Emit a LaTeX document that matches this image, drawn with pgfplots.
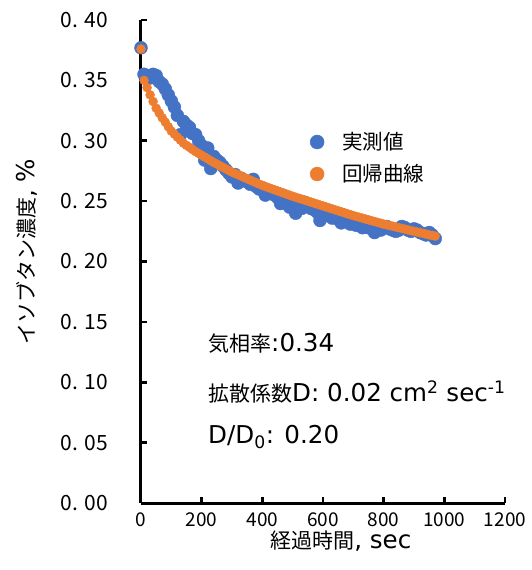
\documentclass[border=0pt]{standalone}
\usepackage{fontspec}
\setmainfont{DejaVu Sans}[Scale=1.17]
\newfontfamily\cjk{Noto Sans CJK JP}
\usepackage{pgfplots}
\pgfplotsset{compat=1.18}
\definecolor{xblue}{HTML}{4472C4}
\definecolor{xorange}{HTML}{ED7D31}
\begin{document}
\begin{tikzpicture}
\useasboundingbox (-141pt,-67pt) rectangle (391pt,503pt);
\begin{axis}[
  scale only axis, width=364pt, height=483pt,
  at={(0pt,0pt)}, anchor=south west,
  xmin=0, xmax=1200, ymin=0, ymax=0.40,
  axis x line*=bottom, axis y line*=left,
  axis line style={line width=3pt, black},
  xtick={0,200,400,600,800,1000,1200},
  xticklabels={0,200,400,600,800,1000,1200},
  ytick={0,0.05,0.1,0.15,0.2,0.25,0.3,0.35,0.4},
  yticklabels={0. 00,0. 05,0. 10,0. 15,0. 20,0. 25,0. 30,0. 35,0. 40},
  tick align=inside, major tick length=6pt,
  tick style={line width=2.5pt, black},
  xticklabel style={font=\cjk\fontsize{19}{22}\selectfont, yshift=-6pt},
  yticklabel style={font=\cjk\fontsize{21}{24}\selectfont, xshift=-29pt},
  xlabel={{\cjk 経過時間}, sec}, ylabel={{\cjk イソブタン濃度}, \%},
  label style={font=\fontsize{21}{24}\selectfont},
  xlabel style={at={(axis description cs:0.549,-0.0787)}, anchor=center},
  ylabel style={at={(axis description cs:-0.313,0.52)}, anchor=center},
  clip=false,
  legend style={draw=none, fill=none, at={(axis cs:547,0.2857)}, anchor=west,
    font=\cjk\fontsize{20.5}{24}\selectfont, row sep=9pt},
  legend cell align=left,
]
\addplot[only marks, mark=*, mark size=6.5pt, color=xblue, mark options={fill=xblue, draw=xblue},
  legend image post style={mark size=7pt}] coordinates {
(0,0.377)(10,0.355)(20,0.354)(30,0.352)(40,0.355)(50,0.354)(60,0.349)(70,0.347)(80,0.343)(90,0.338)
(100,0.333)(110,0.328)(120,0.321)(130,0.305)(140,0.316)(150,0.313)(160,0.311)(170,0.306)(180,0.305)(190,0.300)
(200,0.296)(210,0.284)(220,0.294)(230,0.277)(240,0.287)(250,0.284)(260,0.282)(270,0.279)(280,0.276)(290,0.273)
(300,0.270)(310,0.272)(320,0.265)(330,0.269)(340,0.267)(350,0.266)(360,0.264)(370,0.268)(380,0.262)(390,0.260)
(400,0.261)(410,0.255)(420,0.258)(430,0.257)(440,0.255)(450,0.253)(460,0.248)(470,0.252)(480,0.251)(490,0.245)
(500,0.249)(510,0.240)(520,0.247)(530,0.244)(540,0.249)(550,0.246)(560,0.244)(570,0.243)(580,0.241)(590,0.234)
(600,0.240)(610,0.239)(620,0.238)(630,0.236)(640,0.237)(650,0.235)(660,0.232)(670,0.234)(680,0.233)(690,0.231)
(700,0.232)(710,0.230)(720,0.231)(730,0.228)(740,0.229)(750,0.228)(760,0.227)(770,0.224)(780,0.227)(790,0.226)
(800,0.228)(810,0.229)(820,0.227)(830,0.226)(840,0.225)(850,0.226)(860,0.229)(870,0.228)(880,0.226)(890,0.225)
(900,0.227)(910,0.226)(920,0.224)(930,0.223)(940,0.222)(950,0.224)(960,0.222)(970,0.219)
};
\addlegendentry{\hspace*{16pt}実測値}
\addplot[only marks, mark=*, mark size=4.5pt, color=xorange, mark options={fill=xorange, draw=xorange},
  legend image post style={mark size=7pt}] coordinates {
(0,0.376)(10,0.350)(20,0.344)(30,0.338)(40,0.3325)(50,0.327)(60,0.323)(70,0.319)(80,0.3154)(90,0.3116)
(100,0.308)(110,0.3055)(120,0.303)(130,0.3005)(140,0.298)(150,0.2962)(160,0.2945)(170,0.2927)(180,0.291)(190,0.2895)
(200,0.288)(210,0.2865)(220,0.285)(230,0.2835)(240,0.282)(250,0.2807)(260,0.2793)(270,0.278)(280,0.2767)(290,0.2753)
(300,0.274)(310,0.2729)(320,0.2718)(330,0.2707)(340,0.2696)(350,0.2685)(360,0.2674)(370,0.2663)(380,0.2652)(390,0.2641)
(400,0.263)(410,0.2621)(420,0.2612)(430,0.2603)(440,0.2594)(450,0.2585)(460,0.2576)(470,0.2567)(480,0.2558)(490,0.2549)
(500,0.254)(510,0.2532)(520,0.2524)(530,0.2516)(540,0.2508)(550,0.25)(560,0.2492)(570,0.2484)(580,0.2476)(590,0.2468)
(600,0.246)(610,0.2452)(620,0.2444)(630,0.2436)(640,0.2428)(650,0.242)(660,0.2412)(670,0.2404)(680,0.2396)(690,0.2388)
(700,0.238)(710,0.2373)(720,0.2366)(730,0.2359)(740,0.2352)(750,0.2345)(760,0.2338)(770,0.2331)(780,0.2324)(790,0.2317)
(800,0.231)(810,0.2304)(820,0.2298)(830,0.2292)(840,0.2286)(850,0.228)(860,0.2274)(870,0.2268)(880,0.2262)(890,0.2256)
(900,0.225)(910,0.2244)(920,0.2239)(930,0.2233)(940,0.2227)(950,0.2221)(960,0.2216)(970,0.221)
};
\addlegendentry{\hspace*{16pt}回帰曲線}
\node[anchor=west, font=\fontsize{21}{24}\selectfont, inner sep=0pt] at (axis cs:221,0.1325) {{\cjk 気相率}:0.34};
\node[anchor=west, font=\fontsize{21}{24}\selectfont, inner sep=0pt] at (axis cs:221,0.0919) {{\cjk 拡散係数}D: 0.02 cm\textsuperscript{2} sec\textsuperscript{-1}};
\node[anchor=west, font=\fontsize{21}{24}\selectfont, inner sep=0pt] at (axis cs:221,0.0546) {D/D\textsubscript{0}: 0.20};
\end{axis}
\end{tikzpicture}
\end{document}
